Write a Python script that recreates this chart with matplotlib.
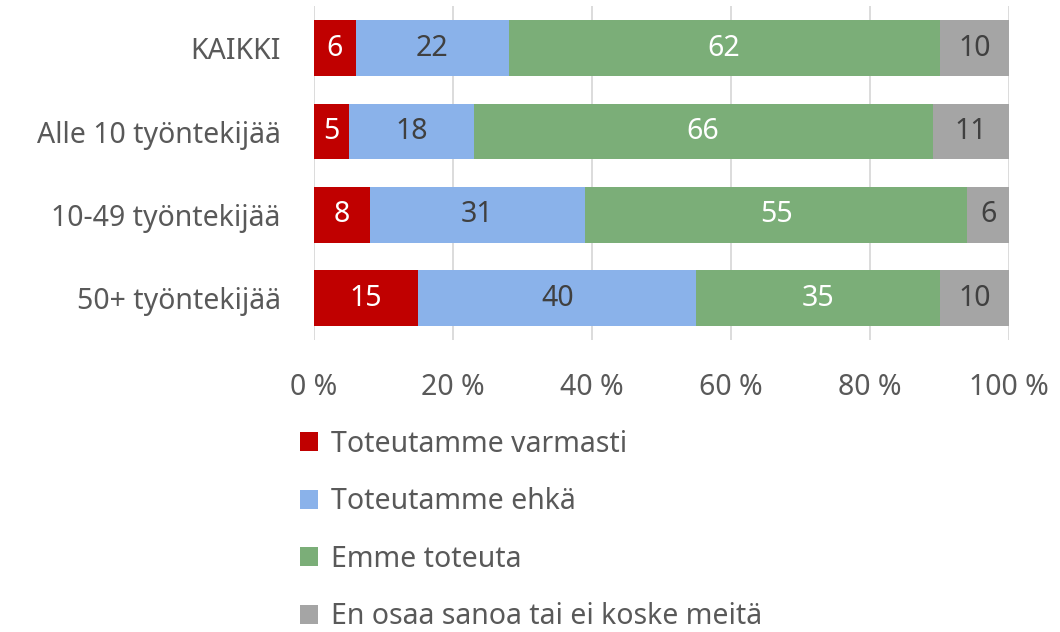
import matplotlib.pyplot as plt
import numpy as np

plt.rcParams['font.family'] = ['Noto Sans', 'DejaVu Sans']

groups = ["KAIKKI", "Alle 10 työntekijää", "10-49 työntekijää", "50+ työntekijää"]
series_names = ["Toteutamme varmasti", "Toteutamme ehkä", "Emme toteuta",
                "En osaa sanoa tai ei koske meitä"]
varmasti = [6, 5, 8, 15]
ehka = [22, 18, 31, 40]
emme = [62, 66, 55, 35]
en_osaa = [10, 11, 6, 10]

colors = ["#C00000", "#8AB2EA", "#7BAE78", "#A5A5A5"]
label_colors = ["white", "#404040", "white", "#404040"]
txt = "#595959"
fs = 20.5

fig = plt.figure(figsize=(10.6, 6.32), dpi=100)
ax = fig.add_axes([0.2962, 0.462, 0.6557, 0.5278])

y = np.arange(len(groups))
left = np.zeros(len(groups))
handles = []
for vals, name, c, lc in zip([varmasti, ehka, emme, en_osaa], series_names, colors, label_colors):
    bars = ax.barh(y, vals, left=left, height=0.67, color=c, label=name, zorder=3)
    ax.bar_label(bars, labels=[str(v) for v in vals], label_type='center',
                 color=lc, fontsize=fs)
    left += np.array(vals)
    handles.append(bars)

ax.set_xlim(0, 100)
ax.set_ylim(len(groups) - 0.5, -0.5)
ax.set_xticks(np.arange(0, 101, 20))
ax.set_xticklabels([f"{v} %" for v in range(0, 101, 20)])
ax.set_yticks(y)
ax.set_yticklabels(groups)
ax.tick_params(axis='both', length=0, labelsize=fs, colors=txt)
ax.tick_params(axis='x', pad=24)
ax.tick_params(axis='y', pad=24)
ax.grid(axis='x', color="#D9D9D9", linewidth=1.3, zorder=0)
for s in ax.spines.values():
    s.set_visible(False)

fig.legend(handles=handles, loc='upper left', bbox_to_anchor=(0.272, 0.338),
           frameon=False, fontsize=fs, labelcolor=txt, handlelength=0.65,
           handleheight=0.65, handletextpad=0.45, labelspacing=1.0,
           borderaxespad=0)

fig.savefig("out.png", dpi=100)
